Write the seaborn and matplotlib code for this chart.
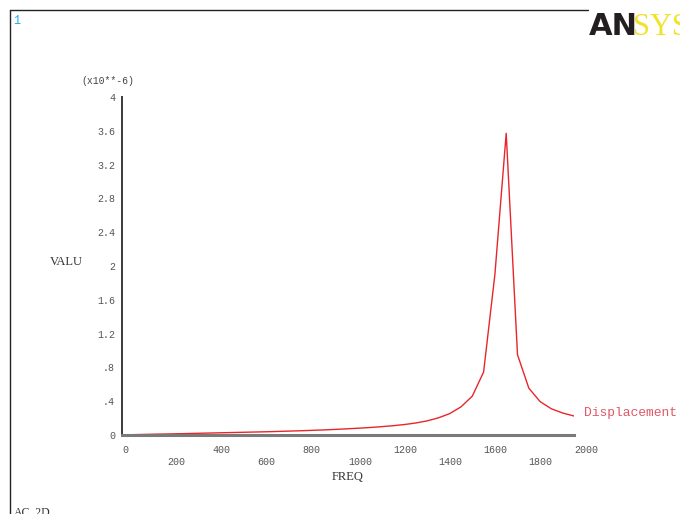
import matplotlib
matplotlib.use("Agg")
import matplotlib.pyplot as plt
import seaborn as sns
import pandas as pd
from matplotlib.lines import Line2D

# Harmonic response: displacement amplitude vs excitation frequency
freq = [50, 100, 150, 200, 250, 300, 350, 400, 450, 500,
        550, 600, 650, 700, 750, 800, 850, 900, 950, 1000,
        1050, 1100, 1150, 1200, 1250, 1300, 1350, 1400, 1450, 1500,
        1550, 1600, 1650, 1700, 1750, 1800, 1850, 1900, 1950, 2000]
# amplitude in units of 1e-6
displacement_e6 = [0.004, 0.007, 0.010, 0.012, 0.015, 0.018, 0.021, 0.024, 0.027, 0.030,
                   0.033, 0.036, 0.039, 0.043, 0.047, 0.051, 0.056, 0.061, 0.067, 0.074,
                   0.081, 0.089, 0.099, 0.110, 0.124, 0.142, 0.167, 0.203, 0.253, 0.333,
                   0.460, 0.745, 1.900, 3.570, 0.950, 0.555, 0.395, 0.310, 0.260, 0.225]

x_major = [0, 400, 800, 1200, 1600, 2000]
x_minor = [200, 600, 1000, 1400, 1800]
y_ticks = [0, 0.4, 0.8, 1.2, 1.6, 2.0, 2.4, 2.8, 3.2, 3.6, 4.0]
y_labels = ["0", ".4", ".8", "1.2", "1.6", "2", "2.4", "2.8", "3.2", "3.6", "4"]

sns.set_style("white")
plt.rcParams["font.family"] = ["Liberation Mono", "DejaVu Sans Mono"]

W, H = 680, 514
fig = plt.figure(figsize=(W / 100, H / 100), dpi=100)
fig.patch.set_facecolor("white")

def px(x, y):
    return x / W, 1 - y / H

ax = fig.add_axes([122 / W, 1 - 435 / H, (574 - 122) / W, (435 - 97) / H])
df = pd.DataFrame({"FREQ": freq, "VALU": displacement_e6})
sns.lineplot(data=df, x="FREQ", y="VALU", ax=ax, color="#e8262a", linewidth=1.0)

ax.set_xlim(0, 2000)
ax.set_ylim(0, 4)
ax.set_xlabel("")
ax.set_ylabel("")
for s in ["top", "right"]:
    ax.spines[s].set_visible(False)
ax.spines["left"].set_color("#3a3a3a")
ax.spines["left"].set_linewidth(1.4)
ax.spines["bottom"].set_color("#7a7a7a")
ax.spines["bottom"].set_linewidth(2.2)

tick_color = "#555555"
ax.set_xticks(x_major)
ax.set_xticklabels([str(v) for v in x_major])
ax.set_xticks(x_minor, minor=True)
ax.set_xticklabels([str(v) for v in x_minor], minor=True)
ax.tick_params(axis="x", which="major", direction="out", length=4, width=1,
               color="#dddddd", labelsize=7.2, labelcolor=tick_color, pad=3.5)
ax.tick_params(axis="x", which="minor", direction="out", length=4, width=1,
               color="#dddddd", labelsize=7.2, labelcolor=tick_color, pad=11.5)
for lab in ax.get_xticklabels() + ax.get_xticklabels(minor=True):
    lab.set_ha("left")

ax.set_yticks(y_ticks)
ax.set_yticklabels(y_labels)
ax.tick_params(axis="y", direction="out", length=3, width=0.8, color="#cccccc",
               labelsize=7.2, labelcolor=tick_color, pad=2)

# axis titles and annotations
fig.text(*px(108, 81), "(x10**-6)", fontsize=7, color="#444444", ha="center", va="center")
fig.text(*px(66, 262), "VALU", fontsize=9, color="#333333", ha="center", va="center",
         family="Liberation Serif")
fig.text(*px(348, 477), "FREQ", fontsize=9, color="#333333", ha="center", va="center",
         family="Liberation Serif")
fig.text(*px(584, 413), "Displacement", fontsize=9.4, color="#e05868", ha="left", va="center")

# window frame, plot number and title
fig.add_artist(Line2D([10 / W, 588 / W], [1 - 10 / H, 1 - 10 / H], color="#222222", lw=1.0,
                      transform=fig.transFigure))
fig.add_artist(Line2D([10 / W, 10 / W], [1 - 10 / H, 0], color="#222222", lw=1.0,
                      transform=fig.transFigure))
fig.text(*px(13, 21), "1", fontsize=8.5, color="#1aaee8", ha="left", va="center")
fig.text(*px(14, 506), "AC_2D", fontsize=8.5, color="#333333", ha="left", va="top",
         family="Liberation Serif")

# logo
fig.text(*px(589, 35), "AN", fontsize=22, fontweight="heavy", color="#231f20",
         family="Liberation Sans Narrow", ha="left", va="baseline")
fig.text(*px(633, 35), "SYS", fontsize=22, color="#f2e22a",
         family="Liberation Serif", ha="left", va="baseline")

fig.savefig("out.png", dpi=100, facecolor="white")
